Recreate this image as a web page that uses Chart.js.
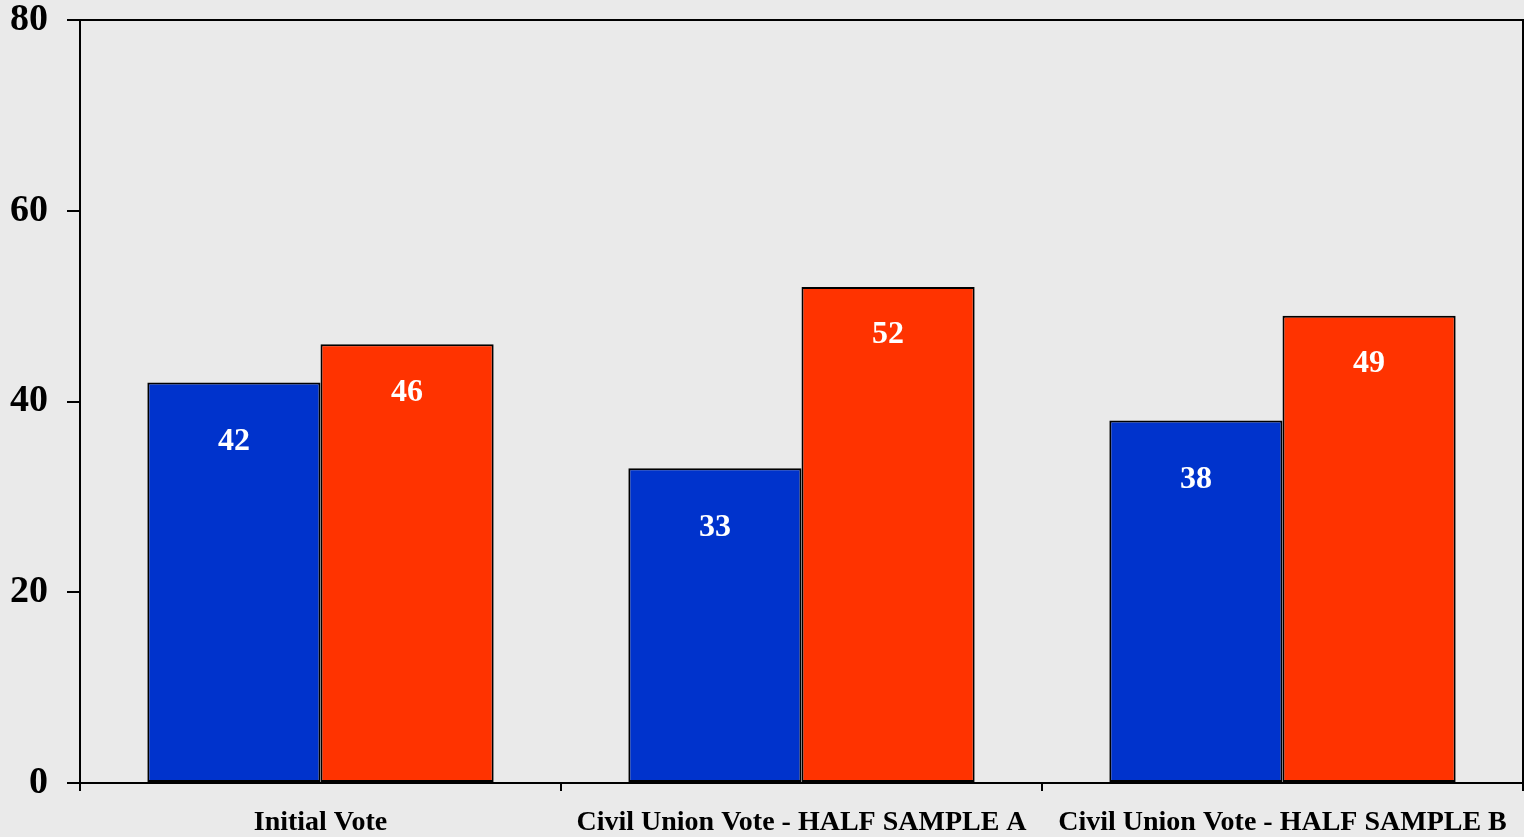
<!DOCTYPE html>
<html>
<head>
<meta charset="utf-8">
<script src="https://cdn.jsdelivr.net/npm/chart.js@4/dist/chart.umd.min.js"></script>
<style>
  html, body { margin: 0; padding: 0; background: #eaeaea; }
  #wrap { width: 1524px; height: 837px; }
</style>
</head>
<body>
<div id="wrap"><canvas id="voteChart" width="1524" height="837"></canvas></div>
<script>
// dados
const categorias = ['Initial Vote', 'Civil Union Vote - HALF SAMPLE A', 'Civil Union Vote - HALF SAMPLE B'];
const serieAzul = [42, 33, 38];
const serieVermelha = [46, 52, 49];
const ticksY = [0, 20, 40, 60, 80];

const fonte = '"Liberation Serif", "Times New Roman", serif';

// rótulos brancos dentro das barras
const rotulosPlugin = {
    id: 'rotulos',
    afterDatasetsDraw(chart) {
        const ctx = chart.ctx;
        const deslocamento = [59, 48];
        ctx.save();
        ctx.font = 'bold 32px ' + fonte;
        ctx.fillStyle = '#ffffff';
        ctx.textAlign = 'center';
        ctx.textBaseline = 'middle';
        chart.data.datasets.forEach((ds, i) => {
            chart.getDatasetMeta(i).data.forEach((bar, j) => {
                ctx.fillText(String(ds.data[j]), bar.x, bar.y + deslocamento[i]);
            });
        });
        ctx.restore();
    }
};

// moldura superior e direita da área do gráfico
const molduraPlugin = {
    id: 'moldura',
    afterDraw(chart) {
        const { ctx, chartArea } = chart;
        ctx.save();
        ctx.strokeStyle = '#000';
        ctx.lineWidth = 2;
        ctx.beginPath();
        ctx.moveTo(chartArea.left, chartArea.top);
        ctx.lineTo(chartArea.right, chartArea.top);
        ctx.lineTo(chartArea.right, chartArea.bottom);
        ctx.stroke();
        ctx.restore();
    }
};

const ctx = document.getElementById('voteChart').getContext('2d');
new Chart(ctx, {
    type: 'bar',
    data: {
        labels: categorias,
        datasets: [
            {
                data: serieAzul,
                backgroundColor: '#0033cc',
                borderColor: '#000',
                borderWidth: 2,
                borderSkipped: false
            },
            {
                data: serieVermelha,
                backgroundColor: '#ff3300',
                borderColor: '#000',
                borderWidth: 2,
                borderSkipped: false
            }
        ]
    },
    options: {
        responsive: false,
        animation: false,
        datasets: { bar: { categoryPercentage: 0.72, barPercentage: 1 } },
        layout: { padding: { top: 20, right: 1, left: 0, bottom: 0 } },
        plugins: {
            legend: { display: false },
            tooltip: { enabled: false }
        },
        scales: {
            x: {
                offset: true,
                afterFit: s => {
                    s.height = 54;
                    s.paddingLeft = 0;
                    s.paddingRight = 0;
                },
                grid: {
                    offset: true,
                    drawOnChartArea: false,
                    drawTicks: true,
                    tickLength: 8,
                    color: '#000',
                    lineWidth: 2
                },
                border: { display: true, color: '#000', width: 2 },
                ticks: {
                    color: '#000',
                    padding: 15,
                    maxRotation: 0,
                    autoSkip: false,
                    font: { family: fonte, size: 28, weight: 'bold' }
                }
            },
            y: {
                min: ticksY[0],
                max: ticksY[ticksY.length - 1],
                afterFit: s => {
                    s.width = 80;
                    s.paddingTop = 0;
                    s.paddingBottom = 0;
                },
                afterBuildTicks: s => { s.ticks = ticksY.map(v => ({ value: v })); },
                grid: {
                    drawOnChartArea: false,
                    drawTicks: true,
                    tickLength: 13,
                    color: '#000',
                    lineWidth: 2
                },
                border: { display: true, color: '#000', width: 2 },
                ticks: {
                    color: '#000',
                    padding: 19,
                    font: { family: fonte, size: 38, weight: 'bold' }
                }
            }
        }
    },
    plugins: [rotulosPlugin, molduraPlugin]
});
</script>
</body>
</html>
